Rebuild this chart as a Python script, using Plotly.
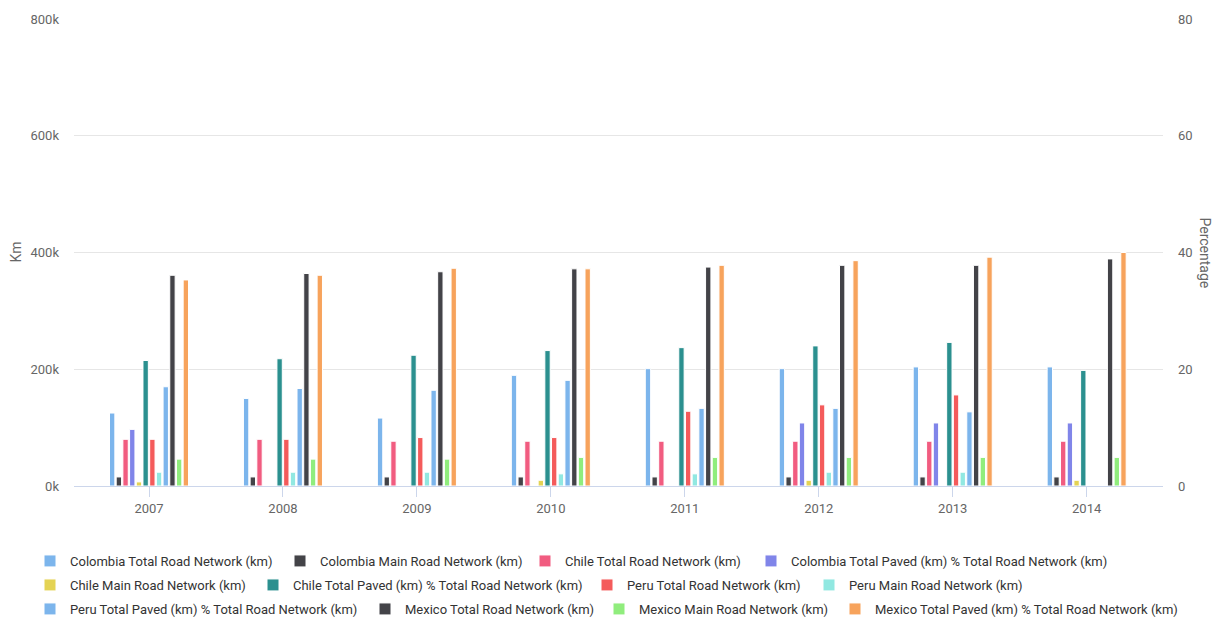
import plotly.graph_objects as go

# Road network statistics by year (km, and paved share in %)
years = ["2007", "2008", "2009", "2010", "2011", "2012", "2013", "2014"]

colombia_total_km = [125000, 150000, 116400, 189600, 201000, 201000, 204000, 204000]
colombia_main_km = [15500, 15500, 15500, 15500, 15500, 15500, 15500, 15500]
chile_total_km = [80000, 80000, 76700, 76700, 76700, 76700, 76700, 76700]
colombia_paved_pct = [9.7, None, None, None, None, 10.8, 10.8, 10.8]
chile_main_km = [7000, None, None, 9800, None, 9800, None, 9800]
chile_paved_pct = [21.5, 21.8, 22.4, 23.2, 23.7, 24.0, 24.6, 19.8]
peru_total_km = [80000, 80000, 83000, 83000, 128000, 139000, 156000, None]
peru_main_km = [23600, 23600, 23600, 20800, 20800, 23600, 23600, None]
peru_paved_pct = [17.0, 16.7, 16.4, 18.1, 13.3, 13.3, 12.7, None]
mexico_total_km = [361000, 364000, 367000, 372000, 375000, 378000, 378000, 389000]
mexico_main_km = [46000, 46000, 46000, 49000, 49000, 49000, 49000, 49000]
mexico_paved_pct = [35.3, 36.1, 37.3, 37.2, 37.8, 38.6, 39.2, 40.0]

km_tick_values = [0, 200000, 400000, 600000, 800000]
km_tick_labels = ["0k", "200k", "400k", "600k", "800k"]
pct_tick_values = [0, 20, 40, 60, 80]

# (name, values, colour, axis)
series = [
    ("Colombia Total Road Network (km)", colombia_total_km, "#7cb5ec", "y"),
    ("Colombia Main Road Network (km)", colombia_main_km, "#434348", "y"),
    ("Chile Total Road Network (km)", chile_total_km, "#f15c80", "y"),
    ("Colombia Total Paved (km) % Total Road Network (km)", colombia_paved_pct, "#8085e9", "y2"),
    ("Chile Main Road Network (km)", chile_main_km, "#e4d354", "y"),
    ("Chile Total Paved (km) % Total Road Network (km)", chile_paved_pct, "#2b908f", "y2"),
    ("Peru Total Road Network (km)", peru_total_km, "#f45b5b", "y"),
    ("Peru Main Road Network (km)", peru_main_km, "#91e8e1", "y"),
    ("Peru Total Paved (km) % Total Road Network (km)", peru_paved_pct, "#7cb5ec", "y2"),
    ("Mexico Total Road Network (km)", mexico_total_km, "#434348", "y"),
    ("Mexico Main Road Network (km)", mexico_main_km, "#90ed7d", "y"),
    ("Mexico Total Paved (km) % Total Road Network (km)", mexico_paved_pct, "#f7a35c", "y2"),
]

FONT = "Roboto, sans-serif"
W, H = 1213, 620

# Legend entry placement: left edge of the swatch (px) and row centre (px)
legend_slots = [
    (46, 561), (296, 561), (541, 561), (767, 561),
    (46, 585), (269, 585), (603, 585), (825, 585),
    (46, 609), (381, 609), (615, 609), (851, 609),
]

fig = go.Figure()
legend_layouts = {}
for i, (name, vals, color, axis) in enumerate(series):
    key = "legend" if i == 0 else f"legend{i + 1}"
    fig.add_trace(go.Bar(
        x=years, y=vals, name=name, yaxis=axis,
        marker=dict(color=color, line=dict(color="#ffffff", width=1)),
        alignmentgroup="all", offsetgroup=str(i),
        legend=key,
    ))
    sx, sy = legend_slots[i]
    legend_layouts[key] = dict(
        xref="container", yref="container",
        x=(sx - 16) / W, y=1 - sy / H,
        xanchor="left", yanchor="middle",
        orientation="h", bgcolor="rgba(0,0,0,0)",
        borderwidth=0, tracegroupgap=0,
        font=dict(family=FONT, size=13, color="#333333"),
    )

fig.update_layout(
    width=W, height=H,
    margin=dict(l=74, r=50, t=19, b=134),
    paper_bgcolor="#ffffff", plot_bgcolor="#ffffff",
    barmode="group", bargap=0.4, bargroupgap=0.2,
    font=dict(family=FONT, color="#666666", size=13),
    xaxis=dict(
        type="category", range=[-0.56, 7.57],
        showgrid=False, showline=True, linecolor="#ccd6eb", linewidth=1,
        ticks="outside", ticklen=10, tickcolor="#ccd6eb",
        tickfont=dict(family=FONT, size=13, color="#666666"),
        fixedrange=True,
    ),
    yaxis=dict(
        range=[0, 800000], tickvals=km_tick_values, ticktext=km_tick_labels,
        showgrid=True, gridcolor="#e6e6e6", gridwidth=1,
        zeroline=False, showline=False, ticklabelstandoff=14,
        tickfont=dict(family=FONT, size=13, color="#666666"),
    ),
    yaxis2=dict(
        overlaying="y", side="right", range=[0, 80], tickvals=pct_tick_values,
        showgrid=False, zeroline=False, showline=False, ticklabelstandoff=14,
        tickfont=dict(family=FONT, size=13, color="#666666"),
    ),
    showlegend=True,
    annotations=[
        dict(text="Km", xref="paper", yref="paper", x=-59 / 1089, y=0.5,
             xanchor="center", yanchor="middle", textangle=-90, showarrow=False,
             font=dict(family=FONT, size=14, color="#666666")),
        dict(text="Percentage", xref="paper", yref="paper", x=1 + 42 / 1089, y=0.5,
             xanchor="center", yanchor="middle", textangle=90, showarrow=False,
             font=dict(family=FONT, size=14, color="#666666")),
    ],
    **legend_layouts,
)

fig.write_html("out.html")
